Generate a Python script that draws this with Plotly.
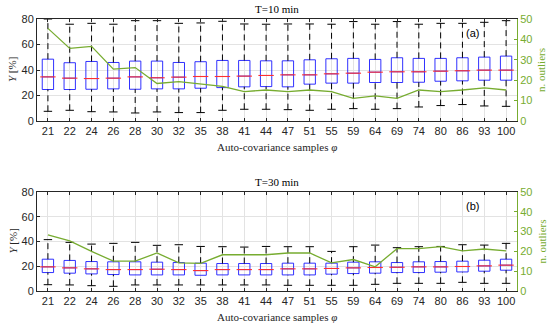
import plotly.graph_objects as go
from plotly.subplots import make_subplots

cats = ["21", "22", "24", "26", "28", "30", "32", "35", "38", "41", "44",
        "47", "51", "55", "59", "64", "69", "74", "80", "86", "93", "100"]

# ---- T = 10 min ----
t10_low = [7.6, 8.4, 7.3, 7.1, 6.3, 7.1, 6.6, 6.6, 8.4, 9.2, 9.2,
           8.9, 8.4, 9.2, 9.7, 9.2, 9.7, 11.0, 12.1, 12.9, 11.8, 11.5]
t10_q1 = [24.7, 24.7, 24.9, 25.2, 24.9, 25.2, 25.2, 25.7, 26.2, 26.8, 27.0,
          26.8, 28.9, 29.7, 29.7, 30.2, 30.2, 30.4, 31.2, 31.5, 32.0, 32.0]
t10_med = [34.6, 33.6, 33.3, 33.6, 34.6, 33.9, 34.4, 34.9, 34.9, 35.2, 35.7,
           36.2, 36.2, 37.0, 37.5, 38.3, 38.6, 38.6, 39.1, 39.4, 39.9, 39.9]
t10_q3 = [48.5, 45.7, 46.7, 45.9, 47.0, 47.0, 45.9, 46.5, 47.5, 47.5, 47.2,
          47.2, 48.0, 48.8, 49.1, 48.3, 49.6, 49.1, 49.1, 49.6, 50.1, 50.9]
t10_high = [80.0, 75.9, 76.6, 75.9, 78.7, 78.7, 76.6, 76.9, 78.2, 76.1, 75.9,
            76.1, 76.1, 75.9, 78.0, 75.9, 78.0, 75.9, 76.6, 76.6, 77.4, 78.7]
t10_outliers = [45.4, 35.6, 36.6, 25.4, 26.2, 18.4, 19.3, 18.2, 17.0, 14.4, 15.2,
                14.4, 15.2, 14.4, 11.1, 12.3, 11.1, 15.2, 14.4, 15.2, 16.2, 15.2]

# ---- T = 30 min ----
t30_low = [5.1, 4.9, 4.3, 3.8, 4.9, 4.9, 4.9, 4.9, 4.9, 4.9, 4.9,
           4.6, 4.6, 4.6, 4.6, 5.4, 6.2, 6.2, 6.2, 7.0, 6.2, 6.2]
t30_q1 = [14.9, 14.4, 13.8, 13.3, 13.0, 13.0, 13.0, 12.7, 13.0, 13.0, 13.0,
          13.0, 13.0, 13.6, 14.1, 14.4, 14.9, 14.9, 15.2, 15.4, 16.0, 16.8]
t30_med = [19.5, 18.7, 17.9, 17.3, 17.3, 17.6, 17.3, 16.5, 17.3, 17.3, 17.3,
           17.9, 17.9, 18.2, 18.7, 19.0, 19.2, 19.5, 19.5, 19.8, 20.3, 20.9]
t30_q3 = [25.7, 24.7, 23.8, 23.6, 23.6, 23.3, 23.0, 22.5, 22.2, 22.2, 22.2,
          22.5, 22.5, 22.5, 23.3, 23.6, 23.0, 23.6, 23.8, 24.1, 24.9, 25.7]
t30_high = [41.5, 39.3, 37.9, 38.5, 39.3, 36.9, 37.4, 36.0, 35.8, 35.5, 36.0,
            35.8, 35.8, 32.0, 35.8, 37.1, 35.0, 35.8, 36.0, 37.4, 37.1, 38.5]
t30_outliers = [28.3, 25.3, 20.0, 15.1, 15.1, 19.2, 14.2, 14.0, 18.3, 18.3, 18.3,
                19.2, 19.2, 14.2, 15.9, 12.2, 21.4, 21.4, 22.4, 20.3, 21.2, 20.3]

titles = ["T=10 min", "T=30 min"]
panel_labels = ["(a)", "(b)"]
xlabel = "Auto-covariance samples <i>φ</i>"
ylabel = "<i>Y</i> [%]"
y2label = "n. outliers"

GREEN = "#77AC30"
GRID = "#e3e3e3"
AX = "#262626"
SANS = "Liberation Sans, Arial, sans-serif"
SERIF = "Liberation Serif, Times New Roman, serif"

W, H = 550, 323

fig = make_subplots(rows=2, cols=1,
                    specs=[[{"secondary_y": True}], [{"secondary_y": True}]])

panels = [
    (t10_low, t10_q1, t10_med, t10_q3, t10_high, t10_outliers),
    (t30_low, t30_q1, t30_med, t30_q3, t30_high, t30_outliers),
]

for i, (lo, q1, med, q3, hi, outl) in enumerate(panels):
    row = i + 1
    # whiskers (dashed)
    wx, wy = [], []
    for c, a, b, c3, d in zip(cats, lo, q1, q3, hi):
        wx += [c, c, None, c, c, None]
        wy += [a, b, None, c3, d, None]
    fig.add_trace(go.Scatter(x=wx, y=wy, mode="lines",
                             line=dict(color="black", width=1, dash="6px,4px"),
                             hoverinfo="skip"), row=row, col=1, secondary_y=False)
    # caps
    fig.add_trace(go.Scatter(x=cats + cats, y=lo + hi, mode="markers",
                             marker=dict(symbol="line-ew", size=6,
                                         line=dict(color="black", width=1)),
                             hoverinfo="skip"), row=row, col=1, secondary_y=False)
    # boxes
    fig.add_trace(go.Box(x=cats, q1=q1, median=med, q3=q3,
                         lowerfence=q1, upperfence=q3,
                         width=0.52, boxpoints=False,
                         line=dict(color="#1a1aff", width=0.9),
                         fillcolor="rgba(0,0,0,0)", whiskerwidth=0),
                  row=row, col=1, secondary_y=False)
    # medians (red)
    fig.add_trace(go.Scatter(x=cats, y=med, mode="markers",
                             marker=dict(symbol="line-ew", size=11,
                                         line=dict(color="#FF3030", width=1.1)),
                             hoverinfo="skip"), row=row, col=1, secondary_y=False)
    # outliers count
    fig.add_trace(go.Scatter(x=cats, y=outl, mode="lines",
                             line=dict(color=GREEN, width=1.3)),
                  row=row, col=1, secondary_y=True)

xdom = [37 / W, 517 / W]
ydoms = [[(H - 121) / H, (H - 19) / H], [(H - 291) / H, (H - 192) / H]]

for i in range(2):
    row = i + 1
    fig.update_xaxes(row=row, col=1, domain=xdom, type="category",
                     categoryorder="array", categoryarray=cats,
                     range=[-0.5, len(cats) - 0.5], automargin=False,
                     showgrid=True, gridcolor=GRID, gridwidth=1,
                     ticks="inside", ticklen=3, tickcolor=AX,
                     showline=True, linecolor=AX, linewidth=1, mirror="ticks",
                     tickfont=dict(family=SANS, size=11, color=AX),
                     zeroline=False)
    fig.update_yaxes(row=row, col=1, secondary_y=False, domain=ydoms[i],
                     range=[0, 80], tickvals=[0, 20, 40, 60, 80], automargin=False,
                     showgrid=True, gridcolor=GRID, gridwidth=1,
                     ticks="inside", ticklen=3, tickcolor=AX,
                     showline=True, linecolor=AX, linewidth=1,
                     tickfont=dict(family=SANS, size=11, color=AX),
                     zeroline=False)
    fig.update_yaxes(row=row, col=1, secondary_y=True, automargin=False,
                     range=[0, 50], tickvals=[0, 10, 20, 30, 40, 50],
                     showgrid=False,
                     ticks="inside", ticklen=3, tickcolor=GREEN,
                     showline=True, linecolor=GREEN, linewidth=1,
                     tickfont=dict(family=SANS, size=11, color=GREEN),
                     zeroline=False)

annotations = []
for i in range(2):
    bot, top = ydoms[i]
    mid = 0.5 * (bot + top)
    annotations.append(dict(text=titles[i], x=0.5 * (xdom[0] + xdom[1]), y=top,
                            xref="paper", yref="paper", xanchor="center", yanchor="bottom",
                            yshift=2, showarrow=False,
                            font=dict(family=SERIF, size=11, color="black")))
    annotations.append(dict(text=panel_labels[i], x=472 / W, y=top,
                            xref="paper", yref="paper", xanchor="center", yanchor="middle",
                            yshift=-14, showarrow=False,
                            font=dict(family=SANS, size=11, color="black")))
    annotations.append(dict(text=xlabel, x=0.5 * (xdom[0] + xdom[1]), y=bot,
                            xref="paper", yref="paper", xanchor="center", yanchor="top",
                            yshift=-18, showarrow=False,
                            font=dict(family=SERIF, size=11, color=AX)))
    annotations.append(dict(text=ylabel, x=12 / W, y=mid, textangle=-90,
                            xref="paper", yref="paper", xanchor="center", yanchor="middle",
                            showarrow=False,
                            font=dict(family=SERIF, size=11, color=AX)))
    annotations.append(dict(text=y2label, x=541 / W, y=mid, textangle=-90,
                            xref="paper", yref="paper", xanchor="center", yanchor="middle",
                            showarrow=False,
                            font=dict(family=SERIF, size=11, color=GREEN)))

fig.update_layout(width=W, height=H, margin=dict(l=0, r=0, t=0, b=0, autoexpand=False),
                  plot_bgcolor="white", paper_bgcolor="white",
                  showlegend=False, annotations=annotations, boxmode="overlay")

fig.write_html("out.html", config={"displayModeBar": False},
               post_script="document.body.style.margin='0px';document.body.style.padding='0px';")
